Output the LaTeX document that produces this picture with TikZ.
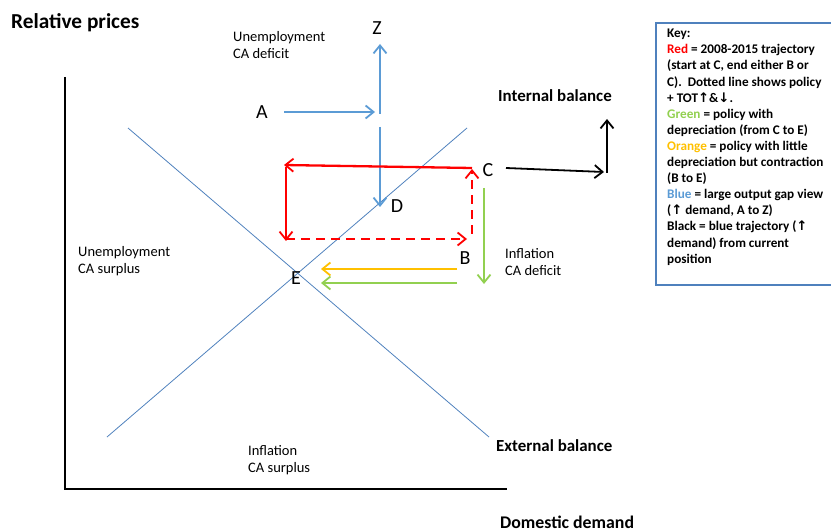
\documentclass[tikz,border=0pt]{standalone}
\usepackage{fontspec}
\setmainfont{Carlito}
\newfontfamily\symf{DejaVu Sans}
\usetikzlibrary{arrows.meta}
\definecolor{barrow}{RGB}{91,155,213}
\definecolor{bline}{RGB}{79,129,189}
\definecolor{gr}{RGB}{146,208,80}
\definecolor{orng}{RGB}{255,192,0}
\definecolor{rd}{RGB}{255,0,0}
\newcommand{\up}{{\symf\char"2191}}
\newcommand{\dn}{{\symf\char"2193}}
\begin{document}
\begin{tikzpicture}[x=1pt,y=-1pt,
  tip/.style={-{Straight Barb[length=8pt,width=13pt,line width=1.8pt]}},
  pt/.style={font=\fontsize{20}{20}\selectfont, inner sep=0pt},
  lab/.style={font=\fontsize{14.5}{17}\selectfont, align=left, inner sep=0pt, anchor=north west},
  blab/.style={font=\bfseries\fontsize{16.9}{18}\selectfont, inner sep=0pt, anchor=west},
  thinl/.style={draw=bline, line width=0.8pt},
  axis/.style={draw=black, line width=2pt}]
\useasboundingbox (0,0) rectangle (831,532);
% axes
\coordinate (ytop) at (65,77);
\coordinate (orig) at (65,489);
\coordinate (xend) at (507,489);
\draw[axis] (ytop) -- (orig) -- (xend);
% balance lines
\coordinate (ib1) at (107,437);
\coordinate (ib2) at (467,128);
\coordinate (eb1) at (128,128);
\coordinate (eb2) at (489,437);
\draw[thinl] (ib1) -- (ib2);
\draw[thinl] (eb1) -- (eb2);
% texts
\node[font=\bfseries\fontsize{21.3}{23}\selectfont, anchor=west, inner sep=0pt] (yl) at (11,23) {Relative prices};
\node[font=\bfseries\fontsize{17.8}{20}\selectfont, anchor=west, inner sep=0pt] (xl) at (500,522) {Domestic demand};
\node[blab] (ibl) at (498,96) {Internal balance};
\node[blab] (ebl) at (496,446) {External balance};
\node[lab] (q1) at (233,31) {Unemployment\\CA deficit};
\node[lab] (q2) at (78,246) {Unemployment\\CA surplus};
\node[lab] (q3) at (505,248) {Inflation\\CA deficit};
\node[lab] (q4) at (248,445) {Inflation\\CA surplus};
% points
\node[pt] (Z) at (377,28) {Z};
\node[pt] (A) at (262,112) {A};
\node[pt] (C) at (488,170) {C};
\node[pt] (D) at (397,206) {D};
\node[pt] (B) at (465,258) {B};
\node[pt] (E) at (296,278) {E};
% blue
\coordinate (a1) at (284,112);
\coordinate (a2) at (375,112);
\coordinate (z0) at (380,114);
\coordinate (z1) at (380,44);
\coordinate (d0) at (380,127);
\coordinate (d1) at (380,207);
\draw[tip, draw=barrow, line width=2pt] (a1) -- (a2);
\draw[tip, draw=barrow, line width=2pt] (z0) -- (z1);
\draw[tip, draw=barrow, line width=2pt] (d0) -- (d1);
% red
\coordinate (r1) at (472,168);
\coordinate (r2) at (284,165);
\coordinate (r3) at (286,167);
\coordinate (r4) at (286,241);
\coordinate (r5) at (286,239);
\coordinate (r6) at (467,239);
\coordinate (r7) at (472,234);
\coordinate (r8) at (472,169);
\draw[tip, draw=rd, line width=2.3pt] (r1) -- (r2);
\draw[tip, draw=rd, line width=2.3pt] (r3) -- (r4);
\draw[tip, draw=rd, line width=2.3pt, dash pattern=on 9pt off 6pt] (r5) -- (r6);
\draw[tip, draw=rd, line width=2.3pt, dash pattern=on 9pt off 6pt] (r7) -- (r8);
% green & orange
\coordinate (g1) at (484,188);
\coordinate (g2) at (484,284);
\coordinate (o1) at (457,269);
\coordinate (o2) at (321,269);
\coordinate (h1) at (457,283);
\coordinate (h2) at (321,283);
\draw[tip, draw=gr, line width=2pt] (g1) -- (g2);
\draw[tip, draw=orng, line width=2pt] (o1) -- (o2);
\draw[tip, draw=gr, line width=2pt] (h1) -- (h2);
% black
\coordinate (k1) at (506,168);
\coordinate (k2) at (604,172);
\coordinate (k3) at (607,173);
\coordinate (k4) at (607,119);
\draw[tip, draw=black, line width=1.8pt] (k1) -- (k2);
\draw[tip, draw=black, line width=1.8pt] (k3) -- (k4);
% key
\draw[draw=bline, line width=1.2pt] (656,23) rectangle (845,285);
\node[font=\bfseries\fontsize{13.2}{16.1}\selectfont, align=left, anchor=north west, inner sep=0pt] (key) at (667,29)
{Key:\\
\textcolor{rd}{Red} = 2008-2015 trajectory\\
(start at C, end either B or\\
C).\ \ Dotted line shows policy\\
+ TOT\up\&\dn.\\
\textcolor{gr}{Green} = policy with\\
depreciation (from C to E)\\
\textcolor{orng}{Orange} = policy with little\\
depreciation but contraction\\
(B to E)\\
\textcolor{barrow}{Blue} = large output gap view\\
(\up{} demand, A to Z)\\
Black = blue trajectory (\up\\
demand) from current\\
position};
\end{tikzpicture}
\end{document}
